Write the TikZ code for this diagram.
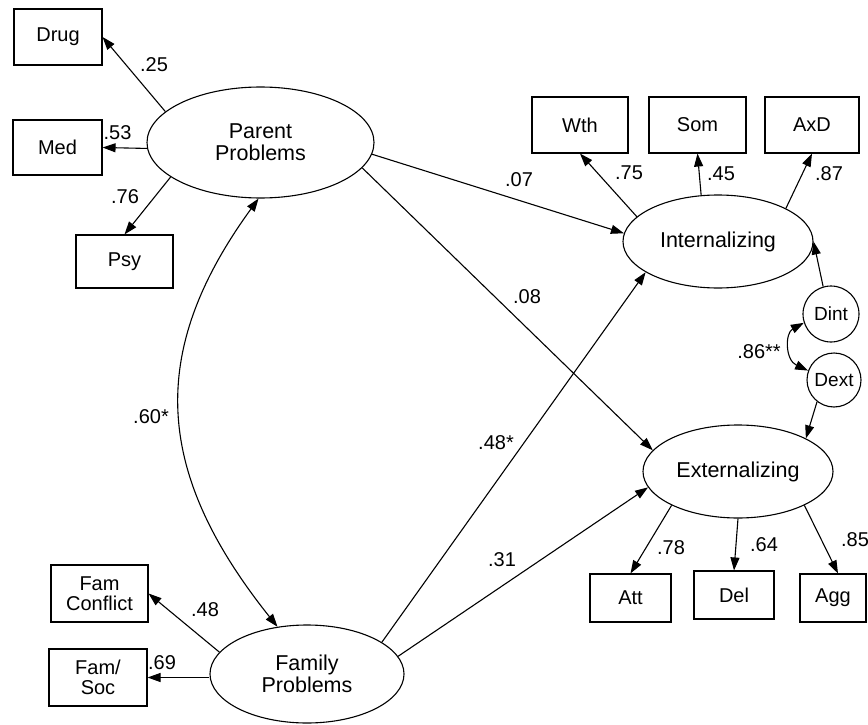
\documentclass[tikz,border=0pt]{standalone}
\usepackage{fontspec}
\setmainfont{Liberation Sans}
\usetikzlibrary{shapes.geometric,arrows.meta}
\begin{document}
\begin{tikzpicture}[x=1pt,y=-1pt,
  tip/.tip={Triangle[length=13pt,width=9pt]},
  arr/.style={-tip,line width=1.1pt},
  darr/.style={tip-tip,line width=1.1pt},
  obs/.style={draw,line width=1.1pt,inner sep=0pt,align=center,font=\fontsize{20pt}{20pt}\selectfont},
  lat/.style={draw,ellipse,line width=1.1pt,inner sep=0pt,align=center,font=\fontsize{21.5pt}{22pt}\selectfont},
  res/.style={draw,circle,line width=1.1pt,inner sep=0pt,font=\fontsize{19pt}{19pt}\selectfont},
  lab/.style={inner sep=0pt,font=\fontsize{20pt}{20pt}\selectfont}]
\useasboundingbox (0,0) rectangle (868,725);

% observed boxes
\node[obs,minimum width=88pt,minimum height=56pt] (drug) at (58,37) {Drug};
\node[obs,minimum width=89pt,minimum height=55pt] (med) at (57.5,147.5) {Med};
\node[obs,minimum width=97pt,minimum height=53pt] (psy) at (124.5,261.5) {Psy};
\node[obs,minimum width=96pt,minimum height=56pt] (wth) at (580,125) {Wth};
\node[obs,minimum width=97pt,minimum height=56pt] (som) at (697.5,125) {Som};
\node[obs,minimum width=94pt,minimum height=56pt] (axd) at (812,125) {AxD};
\node[obs,minimum width=81pt,minimum height=48pt] (att) at (630.5,598) {Att};
\node[obs,minimum width=80pt,minimum height=48pt] (del) at (734,595) {Del};
\node[obs,minimum width=66pt,minimum height=48pt] (agg) at (833,598) {Agg};
\node[obs,minimum width=97pt,minimum height=57pt] (fc) at (99.5,593.5) {Fam\\Conflict};
\node[obs,minimum width=98pt,minimum height=57pt] (fs) at (98,677.5) {Fam/\\Soc};

% latent ellipses
\node[lat,minimum width=227pt,minimum height=111pt] (pp) at (260.5,142.5) {Parent\\Problems};
\node[lat,minimum width=190pt,minimum height=93pt] (int) at (718,241.5) {Internalizing};
\node[lat,minimum width=190pt,minimum height=93pt] (ext) at (738,471.5) {Externalizing};
\node[lat,minimum width=194pt,minimum height=98pt] (fam) at (307,674) {Family\\Problems};

% disturbances
\node[res,minimum size=56pt] (dint) at (831,314) {Dint};
\node[res,minimum size=54pt] (dext) at (834,380) {Dext};

% paths
\draw[arr] (pp.162) -- (drug.east);
\draw[arr] (pp.183) -- (med.east);
\draw[arr] (pp.201) -- (psy.north);
\draw[arr] (pp.-6) -- (int.175);
\draw[arr] (pp.-14) -- (ext.166);
\draw[arr] (fam.23) -- (int.203);
\draw[arr] (fam.11) -- (ext.190);
\draw[arr] (fam.166) -- (fc.east);
\draw[arr] (fs.east -| fam.west) -- (fs.east);
\draw[arr] (int.163) -- (wth.south);
\draw[arr] (int.110) -- (som.south);
\draw[arr] (int.26) -- (axd.south);
\draw[arr] (ext.207) -- (att.north);
\draw[arr] (ext.south) -- (del.north);
\draw[arr] (ext.-27) -- ([xshift=5pt]agg.north);
\draw[arr] (dint.106) -- (int.0);
\draw[arr] (dext.232) -- (ext.26);
\draw[darr] (dint.198) .. controls (785,333) and (785,360) .. (dext.160);
\draw[darr] (pp.268) .. controls (147,352) and (154,472) .. (fam.122);

% labels
\node[lab] (l25) at (154,65) {.25};
\node[lab] (l53) at (117.5,133) {.53};
\node[lab] (l76) at (125,197) {.76};
\node[lab] (l07) at (519,180) {.07};
\node[lab] (l75) at (629,173) {.75};
\node[lab] (l45) at (721,174) {.45};
\node[lab] (l87) at (829,174) {.87};
\node[lab] (l08) at (527,297) {.08};
\node[lab] (l86) at (759,352) {.86**};
\node[lab] (l60) at (151,417) {.60*};
\node[lab] (l48s) at (496,443) {.48*};
\node[lab] (l31) at (502,560) {.31};
\node[lab] (l78) at (671,548) {.78};
\node[lab] (l64) at (764,545) {.64};
\node[lab] (l85) at (855,540) {.85};
\node[lab] (l48) at (205,610) {.48};
\node[lab] (l69) at (162,663) {.69};
\end{tikzpicture}
\end{document}
